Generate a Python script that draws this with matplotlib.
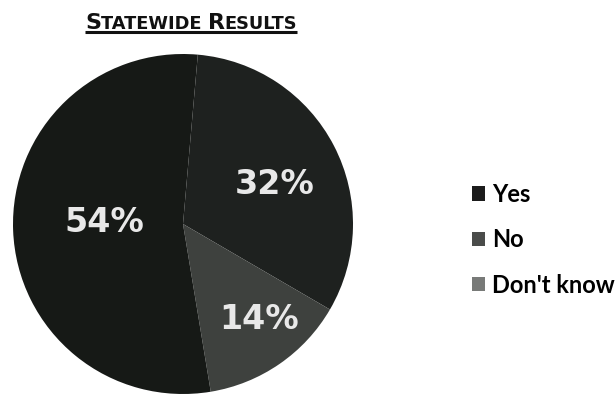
import numpy as np
import matplotlib
matplotlib.use("Agg")
import matplotlib.pyplot as plt
from matplotlib.patches import Patch

# ---- data ----
categories = ["Yes", "No", "Don't know"]
values = [32, 14, 54]
slice_colors = ["#1e211f", "#3e413e", "#161916"]
legend_colors = ["#1c1c1c", "#4a4c4a", "#787a78"]
title_parts = [("S", True), ("TATEWIDE ", False), ("R", True), ("ESULTS", False)]

W, H = 615, 396
fig = plt.figure(figsize=(W / 100, H / 100), dpi=100)
ax = fig.add_axes([0, 0, 1, 1])

cx, cy, R = 183, H - 224, 170
wedges, texts, autotexts = ax.pie(
    values, colors=slice_colors, startangle=85, counterclock=False,
    center=(cx, cy), radius=R, autopct=lambda p: f"{p:.0f}%",
    pctdistance=0.6,
    textprops=dict(color="#e8e8e8", fontsize=24, fontweight="bold",
                   family="DejaVu Sans"),
    wedgeprops=dict(linewidth=0))

# per-label radial placement (fraction of radius) and angle tweaks
label_r = [0.59, 0.72, 0.46]
label_da = [-4, 4, -3]
for w, t, r, da in zip(wedges, autotexts, label_r, label_da):
    ang = np.deg2rad((w.theta1 + w.theta2) / 2 + da)
    t.set_position((cx + r * R * np.cos(ang), cy + r * R * np.sin(ang)))
    t.set_ha("center"); t.set_va("center")

ax.set_xlim(0, W)
ax.set_ylim(0, H)
ax.set_aspect("equal")
ax.axis("off")

# legend
handles = [Patch(facecolor=c, edgecolor="none") for c in legend_colors]
leg = ax.legend(handles, categories, loc="upper left",
                bbox_to_anchor=(460 / W, 1 - 171 / H), frameon=False,
                prop=dict(family="Lato", weight="bold", size=17),
                handlelength=0.55, handleheight=0.55, handletextpad=0.3,
                labelspacing=0.95, borderpad=0)

# title in small caps with underline
fig.canvas.draw()
renderer = fig.canvas.get_renderer()
x0 = 85
ybase = H - 29
prev = None
pieces = []
for txt, big in title_parts:
    size = 16 if big else 12.8
    if prev is None:
        t = ax.text(x0, ybase, txt, fontsize=size, fontweight="bold",
                    family="DejaVu Sans", ha="left", va="baseline", color="#111111")
    else:
        t = ax.annotate(txt, xy=(1, 0), xycoords=prev, fontsize=size,
                        fontweight="bold", family="DejaVu Sans",
                        ha="left", va="bottom", color="#111111")
    pieces.append(t)
    prev = t
fig.canvas.draw()
x_end = pieces[-1].get_window_extent(renderer).x1
ax.plot([x0, x_end], [ybase - 3, ybase - 3], color="#111111", lw=2.2,
        solid_capstyle="butt")

fig.savefig("out.png", dpi=100, facecolor="white")
